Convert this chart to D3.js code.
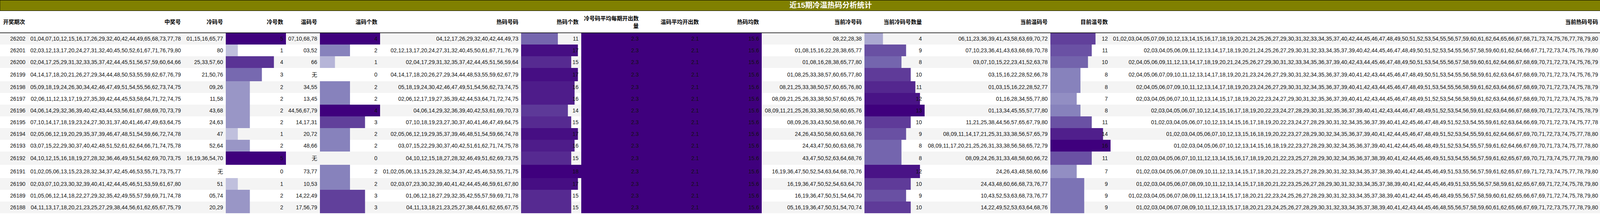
<!DOCTYPE html>
<html>
<head>
<meta charset="utf-8">
<script src="https://cdn.jsdelivr.net/npm/d3@7"></script>
<style>
  body { margin: 0; background: #fff; }
  text { font-family: "Liberation Sans", "Noto Sans CJK SC", sans-serif; }
</style>
</head>
<body>
<svg id="chart"></svg>
<script>
// data, one entry per draw
var periods = ['26202','26201','26200','26199','26198','26197','26196','26195','26194','26193','26192','26191','26190','26189','26188'];
var winning = [
  '01,04,07,10,12,15,16,17,26,29,32,40,42,44,49,65,68,73,77,78',
  '02,03,12,13,17,20,24,27,31,32,40,45,50,52,61,67,71,76,79,80',
  '02,04,17,25,29,31,32,33,35,37,42,44,45,51,56,57,59,60,64,66',
  '04,14,17,18,20,21,26,27,29,34,44,48,50,53,55,59,62,67,76,79',
  '05,09,18,19,24,26,30,34,42,46,47,49,51,54,55,56,62,73,74,75',
  '02,06,11,12,13,17,19,27,35,39,42,44,45,53,58,64,71,72,74,75',
  '04,06,14,29,32,36,39,40,42,43,44,53,56,61,67,68,69,70,73,79',
  '07,10,14,17,18,19,23,24,27,30,31,37,40,41,46,47,49,63,64,75',
  '02,05,06,12,19,20,29,35,37,39,46,47,48,51,54,59,66,72,74,78',
  '03,07,15,22,29,30,37,40,42,48,51,52,61,62,64,66,71,74,75,78',
  '04,10,12,15,16,18,19,27,28,32,36,46,49,51,54,62,69,70,73,75',
  '01,02,05,06,13,15,23,28,32,34,37,42,45,46,53,55,71,73,75,77',
  '02,03,07,10,23,30,32,39,40,41,42,44,45,46,51,53,59,61,67,80',
  '01,05,06,12,14,18,22,27,29,32,35,42,49,55,57,59,69,71,74,78',
  '04,11,13,17,18,20,21,23,25,27,29,38,44,56,61,62,65,67,75,79'
];
var coldCodes = ['01,15,16,65,77','80','25,33,57,60','21,50,76','09,26','11,58','43,68','24,63','47','52,64','16,19,36,54,70','无','51','05,74','20,29'];
var coldCount = [5,1,4,3,2,2,2,2,1,2,5,0,1,2,2];
var warmCodes = ['07,10,68,78','03,52','66','无','34,55','13,45','44,56,67,79','14,17,31','20,72','48,66','无','73,77','10,53','14,22,49','17,56,79'];
var warmCount = [4,2,1,0,2,2,4,3,2,2,0,2,2,3,3];
var hotCodes = [
  '04,12,17,26,29,32,40,42,44,49,73',
  '02,12,13,17,20,24,27,31,32,40,45,50,61,67,71,76,79',
  '02,04,17,29,31,32,35,37,42,44,45,51,56,59,64',
  '04,14,17,18,20,26,27,29,34,44,48,53,55,59,62,67,79',
  '05,18,19,24,30,42,46,47,49,51,54,56,62,73,74,75',
  '02,06,12,17,19,27,35,39,42,44,53,64,71,72,74,75',
  '04,06,14,29,32,36,39,40,42,53,61,69,70,73',
  '07,10,18,19,23,27,30,37,40,41,46,47,49,64,75',
  '02,05,06,12,19,29,35,37,39,46,48,51,54,59,66,74,78',
  '03,07,15,22,29,30,37,40,42,51,61,62,71,74,75,78',
  '04,10,12,15,18,27,28,32,46,49,51,62,69,73,75',
  '01,02,05,06,13,15,23,28,32,34,37,42,45,46,53,55,71,75',
  '02,03,07,23,30,32,39,40,41,42,44,45,46,59,61,67,80',
  '01,06,12,18,27,29,32,35,42,55,57,59,69,71,78',
  '04,11,13,18,21,23,25,27,38,44,61,62,65,67,75'
];
var hotCount = [11,17,15,17,16,16,14,15,17,16,15,18,17,15,15];
var coldAvg = [2.3,2.3,2.3,2.3,2.3,2.3,2.3,2.3,2.3,2.3,2.3,2.3,2.3,2.3,2.3];
var warmAvg = [2.1,2.1,2.1,2.1,2.1,2.1,2.1,2.1,2.1,2.1,2.1,2.1,2.1,2.1,2.1];
var hotAvg = [15.6,15.6,15.6,15.6,15.6,15.6,15.6,15.6,15.6,15.6,15.6,15.6,15.6,15.6,15.6];
var curColdCodes = ['08,22,28,38','01,08,15,16,22,28,38,65,77','01,08,16,28,38,65,77,80','01,08,25,33,38,57,60,65,77,80','08,21,25,33,38,50,57,60,65,76,80','08,09,21,25,26,33,38,50,57,60,65,76','08,09,11,21,25,26,33,38,50,58,60,65,76','08,09,26,33,43,50,58,60,68,76','24,26,43,50,58,60,63,68,76','24,43,47,50,60,63,68,76','43,47,50,52,63,64,68,76','16,19,36,47,50,52,54,63,64,68,70,76','16,19,36,47,50,52,54,63,64,70','16,19,36,47,50,51,54,64,70','05,16,19,36,47,50,51,54,70,74'];
var curColdCount = [4,9,8,10,11,12,13,10,9,8,8,12,10,9,10];
var curWarmCodes = ['06,11,23,36,39,41,43,58,63,69,70,72','07,10,23,36,41,43,63,68,69,70,78','03,07,10,15,22,23,41,52,63,78','03,15,16,22,28,52,66,78','01,03,15,16,22,28,52,77','01,16,28,34,55,77,80','01,13,34,45,55,57,77,80','11,21,25,38,44,56,57,65,67,79,80','08,09,11,14,17,21,25,31,33,38,56,57,65,79','08,09,11,17,20,21,25,26,31,33,38,56,58,65,72,79','08,09,24,26,31,33,48,58,60,66,72','24,26,43,48,58,60,66','24,43,48,60,66,68,73,76,77','10,43,52,53,63,68,73,76,77','14,22,49,52,53,63,64,68,76'];
var curWarmCount = [12,11,10,8,8,7,8,11,14,16,11,7,9,9,9];
var curHotCodes = [
  '01,02,03,04,05,07,09,10,12,13,14,15,16,17,18,19,20,21,24,25,26,27,29,30,31,32,33,34,35,37,40,42,44,45,46,47,48,49,50,51,52,53,54,55,56,57,59,60,61,62,64,65,66,67,68,71,73,74,75,76,77,78,79,80',
  '02,03,04,05,06,09,11,12,13,14,17,18,19,20,21,24,25,26,27,29,30,31,32,33,34,35,37,39,40,42,44,45,46,47,48,49,50,51,52,53,54,55,56,57,58,59,60,61,62,64,66,67,71,72,73,74,75,76,79,80',
  '02,04,05,06,09,11,12,13,14,17,18,19,20,21,24,25,26,27,29,30,31,32,33,34,35,36,37,39,40,42,43,44,45,46,47,48,49,50,51,53,54,55,56,57,58,59,60,61,62,64,66,67,68,69,70,71,72,73,74,75,76,79',
  '02,04,05,06,07,09,10,11,12,13,14,17,18,19,20,21,23,24,26,27,29,30,31,32,34,35,36,37,39,40,41,42,43,44,45,46,47,48,49,50,51,53,54,55,56,58,59,61,62,63,64,67,68,69,70,71,72,73,74,75,76,79',
  '02,04,05,06,07,09,10,11,12,13,14,17,18,19,20,23,24,26,27,29,30,31,32,34,35,36,37,39,40,41,42,43,44,45,46,47,48,49,51,53,54,55,56,58,59,61,62,63,64,66,67,68,69,70,71,72,73,74,75,78,79',
  '02,03,04,05,06,07,10,11,12,13,14,15,17,18,19,20,22,23,24,27,29,30,31,32,35,36,37,39,40,41,42,43,44,45,46,47,48,49,51,52,53,54,56,58,59,61,62,63,64,66,67,68,69,70,71,72,73,74,75,78,79',
  '02,03,04,05,06,07,10,12,14,15,16,17,18,19,20,22,23,24,27,28,29,30,31,32,35,36,37,39,40,41,42,43,44,46,47,48,49,51,52,53,54,56,59,61,62,63,64,66,67,68,69,70,71,72,73,74,75,78,79',
  '01,02,03,04,05,06,07,10,12,13,14,15,16,17,18,19,20,22,23,24,27,28,29,30,31,32,34,35,36,37,39,40,41,42,45,46,47,48,49,51,52,53,54,55,59,61,62,63,64,66,69,70,71,72,73,74,75,77,78',
  '01,02,03,04,05,06,07,10,12,13,15,16,18,19,20,22,23,27,28,29,30,32,34,35,36,37,39,40,41,42,44,45,46,47,48,49,51,52,53,54,55,59,61,62,64,66,67,69,70,71,72,73,74,75,77,78,80',
  '01,02,03,04,05,06,07,10,12,13,14,15,16,18,19,22,23,27,28,29,30,32,34,35,36,37,39,40,41,42,44,45,46,48,49,51,52,53,54,55,57,59,61,62,64,66,67,69,70,71,73,74,75,77,78,80',
  '01,02,03,04,05,06,07,10,11,12,13,14,15,16,17,18,19,20,21,22,23,25,27,28,29,30,32,34,35,36,37,38,39,40,41,42,44,45,46,49,51,53,54,55,56,57,59,61,62,65,67,69,70,71,73,74,75,77,78,79,80',
  '01,02,03,04,05,06,07,08,09,10,11,12,13,14,15,17,18,20,21,22,23,25,27,28,29,30,31,32,33,34,35,37,38,39,40,41,42,44,45,46,49,51,53,55,56,57,59,61,62,65,67,69,71,72,73,74,75,77,78,79,80',
  '01,02,03,04,05,06,07,08,09,10,11,12,13,14,15,17,18,20,21,22,23,25,26,27,28,29,30,31,32,33,34,35,37,38,39,40,41,42,44,45,46,49,51,53,55,56,57,58,59,61,62,65,67,69,71,72,74,75,78,79,80',
  '01,02,03,04,05,06,07,08,09,11,12,13,14,15,17,18,20,21,22,23,24,25,26,27,28,29,30,31,32,33,34,35,37,38,39,40,41,42,44,45,46,48,49,55,56,57,58,59,60,61,62,65,66,67,69,71,72,74,75,78,79,80',
  '01,02,03,04,06,07,08,09,10,11,12,13,15,17,18,20,21,23,24,25,26,27,28,29,30,31,32,33,34,35,37,38,39,40,41,42,43,44,45,46,48,55,56,57,58,59,60,61,62,65,66,67,69,71,72,73,75,77,78,79,80'
];
var curHotCount = [64,60,62,62,61,61,59,59,57,56,61,61,61,62,61];

var headers = ['开奖期次','中奖号','冷码号','冷号数','温码号','温码个数','热码号码','热码个数','冷号码平均每期开出数量','温码平均开出数','热码均数','当前冷号码','当前冷码号数量','当前温码号','目前温号数','当前热码号码','当前热码数量'];

var width = 4253, height = 548;
var titleH = 28, headH = 56;

// column edges
var columns = [
  {vals: periods, x0: 0, x1: 72},
  {vals: winning, x0: 72, x1: 470},
  {vals: coldCodes, x0: 470, x1: 578},
  {vals: coldCount, x0: 578, x1: 732, bar: true},
  {vals: warmCodes, x0: 732, x1: 819},
  {vals: warmCount, x0: 819, x1: 973, bar: true},
  {vals: hotCodes, x0: 973, x1: 1334},
  {vals: hotCount, x0: 1334, x1: 1488, bar: true},
  {vals: coldAvg, x0: 1488, x1: 1642, bar: true},
  {vals: warmAvg, x0: 1642, x1: 1796, bar: true},
  {vals: hotAvg, x0: 1796, x1: 1950, bar: true},
  {vals: curColdCodes, x0: 1950, x1: 2213},
  {vals: curColdCount, x0: 2213, x1: 2367, bar: true},
  {vals: curWarmCodes, x0: 2367, x1: 2689},
  {vals: curWarmCount, x0: 2689, x1: 2843, bar: true},
  {vals: curHotCodes, x0: 2843, x1: 4098},
  {vals: curHotCount, x0: 4098, x1: 4253, bar: true}
];

// rows with the CJK glyph are a bit taller
var rowH = periods.map(function (p, i) {
  return [coldCodes[i], warmCodes[i]].indexOf('无') >= 0 ? 34 : 30;
});
var rowY = [];
var acc = titleH + headH;
rowH.forEach(function (h) { rowY.push(acc); acc += h; });

var svg = d3.select('#chart').attr('width', width).attr('height', height);

// row stripes
svg.selectAll('rect.stripe')
  .data(periods)
  .enter().append('rect')
  .attr('x', 0)
  .attr('y', function (d, i) { return rowY[i]; })
  .attr('width', width)
  .attr('height', function (d, i) { return rowH[i]; })
  .attr('fill', function (d, i) { return i % 2 === 0 ? '#f4f4f4' : '#ffffff'; });

columns.forEach(function (col, ci) {
  var g = svg.append('g');
  if (col.bar) {
    var x = d3.scaleLinear()
      .domain([0, d3.max(col.vals)])
      .range([0, col.x1 - col.x0]);
    g.selectAll('rect')
      .data(col.vals)
      .enter().append('rect')
      .attr('x', col.x0)
      .attr('y', function (d, i) { return rowY[i]; })
      .attr('width', function (d) { return x(d); })
      .attr('height', function (d, i) { return rowH[i]; })
      .attr('fill', function (d) { return d3.interpolatePurples(0.2 + 0.8 * x(d) / (col.x1 - col.x0)); });
  }
  g.selectAll('text')
    .data(col.vals)
    .enter().append('text')
    .attr('x', col.x1 - 7)
    .attr('y', function (d, i) { return rowY[i] + rowH[i] / 2 + 5; })
    .attr('text-anchor', 'end')
    .attr('font-size', 14)
    .attr('fill', '#111')
    .text(function (d) { return d; });
});

// title band
svg.append('rect')
  .attr('x', 0).attr('y', 0.5)
  .attr('width', width).attr('height', titleH - 1)
  .attr('fill', '#808000').attr('stroke', '#000').attr('stroke-width', 1);
svg.append('text')
  .attr('x', width / 2).attr('y', 20)
  .attr('text-anchor', 'middle')
  .attr('font-size', 19).attr('font-weight', 'bold')
  .attr('fill', '#fff')
  .text('近15期冷温热码分析统计');

// header, long label is split over two lines
var hy = titleH + headH / 2;
headers.forEach(function (h, i) {
  var col = columns[i];
  var lines = h.length > 10 ? [h.slice(0, 10), h.slice(10)] : [h];
  lines.forEach(function (line, li) {
    var y = lines.length > 1 ? hy - 4 + li * 19 : hy + 5;
    svg.append('text')
      .attr('x', i === 0 ? 8 : col.x1 - 7)
      .attr('y', y)
      .attr('text-anchor', i === 0 ? 'start' : 'end')
      .attr('font-size', 14).attr('font-weight', 'bold').attr('fill', '#000')
      .text(line);
  });
});

svg.append('line')
  .attr('x1', 0).attr('x2', width)
  .attr('y1', titleH + headH).attr('y2', titleH + headH)
  .attr('stroke', '#000').attr('stroke-width', 1.5);
</script>
</body>
</html>
